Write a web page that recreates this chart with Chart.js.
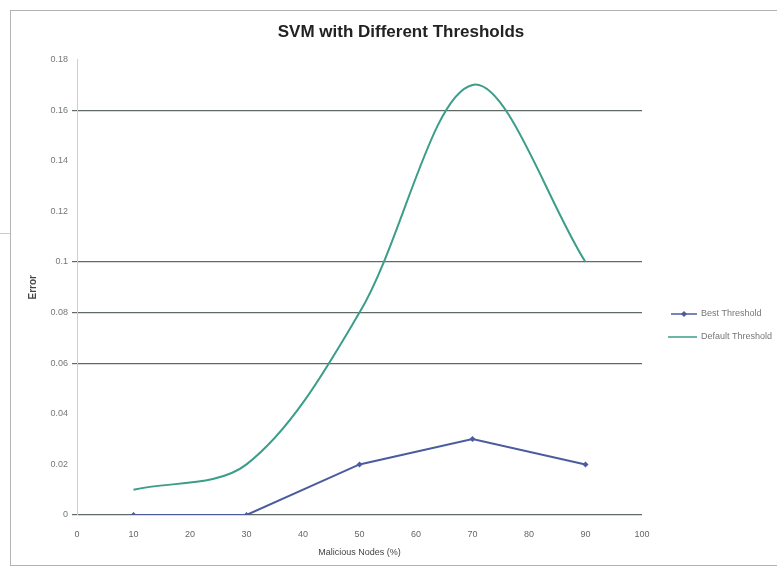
<!DOCTYPE html>
<html>
<head>
<meta charset="utf-8">
<script src="https://cdn.jsdelivr.net/npm/chart.js@4.4.0/dist/chart.umd.min.js"></script>
<style>
  html, body { margin: 0; padding: 0; background: #fff; overflow: hidden; }
  #wrap { position: relative; width: 777px; height: 572px; }
  #frame { position: absolute; left: 10px; top: 10px; width: 800px; height: 556px; border: 1px solid #b4b4b4; box-sizing: border-box; }
  #artifact { position: absolute; left: 0; top: 233px; width: 10px; height: 1px; background: #ccc; }
  canvas { position: absolute; left: 0; top: 0; }
</style>
</head>
<body>
<div id="wrap">
  <div id="frame"></div>
  <div id="artifact"></div>
  <canvas id="c" width="777" height="572"></canvas>
</div>
<script>
// ---- data ----
const chartTitle = "SVM with Different Thresholds";
const xTitle = "Malicious Nodes (%)";
const yTitle = "Error";
const maliciousNodes = [10, 30, 50, 70, 90];
const bestThreshold = [0, 0, 0.02, 0.03, 0.02];
const defaultThreshold = [0.01, 0.02, 0.08, 0.17, 0.1];
const seriesNames = ["Best Threshold", "Default Threshold"];
const visibleGridValues = [0, 0.06, 0.08, 0.1, 0.16];

const blue = '#4b5c9e';
const teal = '#3c9d89';
const font = "'Liberation Sans', Arial, sans-serif";

const toPts = (ys) => maliciousNodes.map((x, i) => ({ x: x, y: ys[i] }));

const overlay = {
  id: 'overlay',
  afterDraw(chart) {
    const ctx = chart.ctx;
    ctx.save();
    // title
    ctx.font = "bold 17px " + font;
    ctx.fillStyle = '#222';
    ctx.textAlign = 'center';
    ctx.textBaseline = 'middle';
    ctx.fillText(chartTitle, 401, 32);
    // legend
    const items = [
      { name: seriesNames[0], color: blue, y: 314, x1: 671, x2: 697, marker: true },
      { name: seriesNames[1], color: teal, y: 337, x1: 668, x2: 697, marker: false }
    ];
    ctx.font = "9px " + font;
    ctx.textAlign = 'left';
    items.forEach(it => {
      ctx.strokeStyle = it.color;
      ctx.lineWidth = 1.5;
      ctx.beginPath();
      ctx.moveTo(it.x1, it.y);
      ctx.lineTo(it.x2, it.y);
      ctx.stroke();
      if (it.marker) {
        const cx = (it.x1 + it.x2) / 2;
        ctx.fillStyle = it.color;
        ctx.beginPath();
        ctx.moveTo(cx, it.y - 3); ctx.lineTo(cx + 3, it.y); ctx.lineTo(cx, it.y + 3); ctx.lineTo(cx - 3, it.y);
        ctx.closePath();
        ctx.fill();
      }
      ctx.fillStyle = '#777';
      ctx.fillText(it.name, 701, it.y);
    });
    ctx.restore();
  }
};

new Chart(document.getElementById('c'), {
  type: 'line',
  data: {
    datasets: [
      {
        label: seriesNames[0],
        data: toPts(bestThreshold),
        borderColor: blue,
        backgroundColor: blue,
        borderWidth: 2,
        tension: 0,
        pointStyle: 'rectRot',
        pointRadius: 3,
        pointBorderWidth: 0,
        fill: false
      },
      {
        label: seriesNames[1],
        data: toPts(defaultThreshold),
        borderColor: teal,
        backgroundColor: teal,
        borderWidth: 2,
        tension: 0.33,
        pointRadius: 0,
        fill: false
      }
    ]
  },
  options: {
    responsive: false,
    animation: false,
    devicePixelRatio: 1,
    layout: { padding: { top: 59.6, left: 0, right: 135, bottom: 0 } },
    plugins: { legend: { display: false }, title: { display: false }, tooltip: { enabled: false } },
    scales: {
      x: {
        type: 'linear',
        min: 0, max: 100,
        ticks: { stepSize: 10, padding: 14, color: '#666', font: { family: font, size: 9 } },
        grid: { display: false, drawTicks: false },
        border: { display: false },
        title: { display: true, text: xTitle, color: '#444', font: { family: font, size: 9 }, padding: { top: 0, bottom: 14 } },
        afterFit(s) { s.height = 57; }
      },
      y: {
        min: 0, max: 0.18,
        ticks: {
          stepSize: 0.02, padding: 4, color: '#777', font: { family: font, size: 9 },
          callback: (v) => String(+Number(v).toFixed(2))
        },
        grid: {
          tickLength: 5,
          lineWidth: 1.2,
          color: (c) => {
            const v = c.tick ? +c.tick.value.toFixed(2) : null;
            return visibleGridValues.includes(v) ? '#5f6b64' : 'rgba(0,0,0,0)';
          }
        },
        border: { display: true, color: '#cfcfcf', width: 1 },
        title: { display: true, text: yTitle, color: '#444', font: { family: font, size: 10, weight: 'bold' }, padding: { top: 27, bottom: 0 } },
        afterFit(s) { s.width = 77; }
      }
    }
  },
  plugins: [overlay]
});
</script>
</body>
</html>
